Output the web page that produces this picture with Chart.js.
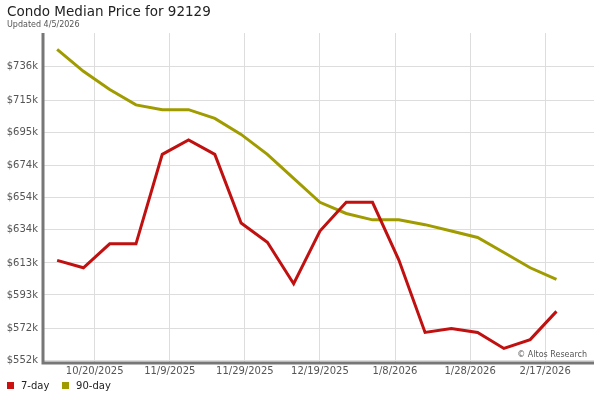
<!DOCTYPE html>
<html><head><meta charset="utf-8">
<script src="https://cdn.jsdelivr.net/npm/chart.js@4"></script>
<style>
body{margin:0;font-family:"DejaVu Sans",sans-serif;background:#fff}
#wrap{position:relative;width:600px;height:400px}
#t{position:absolute;left:7px;top:3px;font-size:13.5px;color:#222}
#u{position:absolute;left:7px;top:20px;font-size:8px;color:#555}
#lg{position:absolute;left:7px;top:380px;font-size:10px;color:#222}
#lg span.b{display:inline-block;width:7px;height:7px;margin-right:7px;vertical-align:0px}
</style></head><body>
<div id="wrap">
<canvas id="c" width="600" height="400"></canvas>
<div id="t">Condo Median Price for 92129</div>
<div id="u">Updated 4/5/2026</div>
<div id="lg"><span class="b" style="background:#cc1111"></span>7-day&nbsp;&nbsp;&nbsp;&nbsp;<span class="b" style="background:#a09c00"></span>90-day</div>
</div>
<script>
const days=[-10,-3,4,11,18,25,32,39,46,53,60,67,74,81,88,95,102,109,116,123];
const sevenDay=[614.6,610,625,625,681,690,681,638,626,600,633,651,651,615,569.5,572,569.5,559.5,565,582.7];
const ninetyDay=[746.7,733,721.6,712,709,709,703.5,693.5,681,666,651,644,640,640,637,633,629,619.6,610,602.7];
const xTicks=[0,20,40,60,80,100,120];
const xLabels=["10/20/2025","11/9/2025","11/29/2025","12/19/2025","1/8/2026","1/28/2026","2/17/2026"];
const yTicks=[552,572,593,613,634,654,674,695,715,736];
const mk=(v)=>days.map((d,i)=>({x:d,y:v[i]}));
const wm={id:'wm',afterDraw(ch){const c=ch.ctx,a=ch.chartArea;c.save();c.font='8px "DejaVu Sans"';c.fillStyle='#555';c.textAlign='right';c.fillText('© Altos Research',a.right-7,a.bottom-5);
c.strokeStyle='#777';c.lineWidth=3;c.beginPath();c.moveTo(a.left-1,a.top);c.lineTo(a.left-1,a.bottom+1);c.lineTo(a.right,a.bottom+1);c.stroke();c.restore();}};
new Chart(document.getElementById('c'),{type:'line',
data:{datasets:[
{label:'7-day',data:mk(sevenDay),borderColor:'#c01010',borderWidth:3,pointRadius:0,tension:0},
{label:'90-day',data:mk(ninetyDay),borderColor:'#a09c00',borderWidth:3,pointRadius:0,tension:0}]},
options:{responsive:false,animation:false,layout:{padding:{top:33,right:6,bottom:20,left:0}},
plugins:{legend:{display:false},tooltip:{enabled:false}},
scales:{
x:{type:'linear',min:-13.5,max:133,afterBuildTicks:a=>{a.ticks=xTicks.map(v=>({value:v}))},
 ticks:{autoSkip:false,maxRotation:0,color:'#555',font:{size:10,family:'DejaVu Sans'},callback:(v)=>xLabels[xTicks.indexOf(v)]},
 grid:{color:'#dddddd',drawTicks:false},border:{display:false}},
y:{min:551,max:757,afterBuildTicks:a=>{a.ticks=yTicks.map(v=>({value:v}))},afterFit:a=>{a.width=44},
 ticks:{color:'#555',font:{size:10,family:'DejaVu Sans'},padding:6,callback:v=>'$'+v+'k'},
 grid:{color:'#dddddd',drawTicks:false},border:{display:false}}}},
plugins:[wm]});
</script></body></html>
